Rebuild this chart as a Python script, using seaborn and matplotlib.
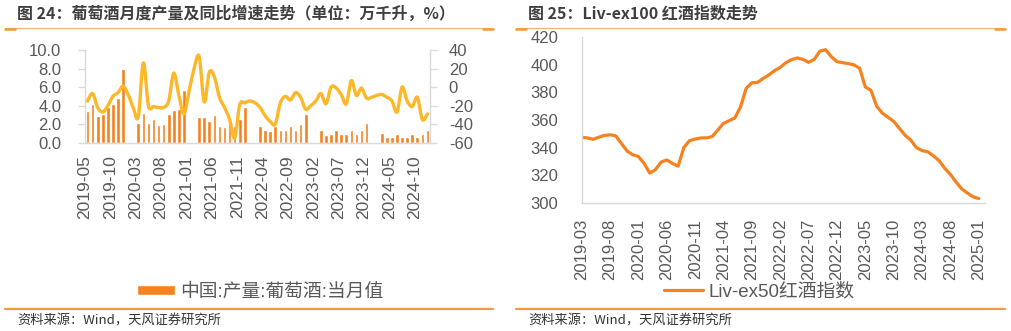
import numpy as np
import pandas as pd
import matplotlib
matplotlib.use("Agg")
import matplotlib.pyplot as plt
import seaborn as sns
from matplotlib.path import Path
from matplotlib.patches import PathPatch
from matplotlib.lines import Line2D

# ------------------------------------------------------------------ data
# Left chart: China wine output (10k kL, bars) and YoY growth (%, line)
prod_months = [str(p) for p in pd.period_range("2019-05", "2024-12", freq="M")]
nan = np.nan
prod_output = [
    3.4, 4.2, 2.9, 3.1, 3.9, 4.2, 4.85, 7.9,
    nan, nan, 2.1, 3.25, 2.1, 2.6, 1.9, 2.05, 3.1, 3.55, 3.6, 5.65,
    nan, nan, 2.8, 2.8, 2.3, 2.95, 1.8, 1.65, 2.1, 1.85, 2.6, 3.9,
    nan, nan, 1.75, 1.4, 1.25, 1.75, 1.4, 1.4, 1.75, 1.4, 2.05, 3.05,
    nan, nan, 1.4, 0.8, 0.9, 1.4, 0.9, 0.9, 1.4, 0.9, 1.4, 2.1,
    nan, nan, 1.1, 0.6, 0.6, 0.9, 0.6, 0.6, 0.9, 0.6, 0.9, 1.4,
]
prod_yoy = [
    -15, -7, -22, -27, -20, -10, -6, 1,
    -8, -22, -32, 26, -20, -21, -22, -22, -15, 15, -9, -29,
    -5, 20, 33, -16, 16, 11, -11, -22, -35, -55, -19, -17,
    -15, -17, -22, -31, -37, -40, -17, -10, -14, -6, -11, -24,
    -20, -15, -7, -18, 0, -1, -8, -18, 7, -9, -1, -12,
    -11, -9, -8, -11, -15, -27, 0, -15, -21, -11, -35, -29,
]
bar_label = "中国:产量:葡萄酒:当月值"

# Right chart: Liv-ex index
liv_months = [str(p) for p in pd.period_range("2019-03", "2025-01", freq="M")]
liv_values = [
    347.5, 347, 346, 347.5, 348.8, 349.3, 348.5, 343, 337.5, 334.8,
    333.5, 328.5, 321.5, 324, 329.5, 331, 328.5, 326.5, 340, 345,
    346.2, 347, 347, 348, 352.7, 357.6, 359.5, 361.5, 369.5, 383,
    387, 387.3, 390.2, 392.7, 395.8, 398.2, 401.6, 403.8, 405, 404,
    401.8, 404, 410, 411, 406, 402.3, 401.6, 400.9, 400, 397.5,
    384, 381.5, 370, 365, 362, 359, 354, 349, 345.5, 340,
    337.8, 337, 334, 330.5, 325, 320.5, 315, 310, 307, 304.3, 303,
]
liv_label = "Liv-ex50红酒指数"

title_left = "图 24：葡萄酒月度产量及同比增速走势（单位：万千升，%）"
title_right = "图 25：Liv-ex100 红酒指数走势"
source_text = "资料来源：Wind，天风证券研究所"

# ------------------------------------------------------------------ style
sns.set_style("white")
plt.rcParams["font.family"] = ["Liberation Sans", "Noto Sans CJK SC", "DejaVu Sans"]
plt.rcParams["axes.unicode_minus"] = False

W, H = 1011, 331
BAR = "#F58220"
GOLD = "#FDB82A"
ORANGE = "#F5821F"
AXC = "#D9D9D9"
TXT = "#595959"
RULE = "#F39A3C"

fig = plt.figure(figsize=(W / 100, H / 100), dpi=100)


def fx(px):
    return px / W


def fy(py):
    return 1 - py / H


# ------------------------------------------------------------------ left chart
ax = fig.add_axes([fx(85), fy(142.7), fx(345), 92.7 / H])
df_prod = pd.DataFrame({"month": prod_months, "output": prod_output})
sns.barplot(data=df_prod, x="month", y="output", order=prod_months, color=BAR,
            saturation=1, width=0.72, errorbar=None, ax=ax, label=bar_label)
if ax.get_legend() is not None:
    ax.get_legend().remove()
ax.set_xlim(-0.5, len(prod_months) - 0.5)
ax.set_ylim(0, 10)
ax.set_yticks(np.arange(0, 10.1, 2))
ax.set_yticklabels([f"{v:.1f}" for v in np.arange(0, 10.1, 2)])
tick_idx = list(range(0, len(prod_months), 5))
ax.set_xticks([i - 0.5 for i in tick_idx])
ax.set_xticklabels([prod_months[i] for i in tick_idx])
ax.set_xlabel("")
ax.set_ylabel("")
for s in ["top", "right"]:
    ax.spines[s].set_visible(False)
for s in ["left", "bottom"]:
    ax.spines[s].set_color(AXC)
    ax.spines[s].set_linewidth(1)
ax.tick_params(axis="y", direction="out", length=5, width=1, color=AXC,
               labelcolor=TXT, labelsize=12, pad=12)
ax.tick_params(axis="x", direction="out", length=5, width=1, color=AXC,
               labelcolor=TXT, labelsize=12.5, pad=4, labelrotation=90)

ax2 = ax.twinx()
ax2.set_ylim(-60, 40)
ax2.set_yticks(np.arange(-60, 41, 20))
ax2.set_yticklabels([f"{v:d}" for v in np.arange(-60, 41, 20)])
for s in ["top", "left", "bottom"]:
    ax2.spines[s].set_visible(False)
ax2.spines["right"].set_color(AXC)
ax2.spines["right"].set_linewidth(1)
ax2.tick_params(axis="y", direction="out", length=5, width=1, color=AXC,
                labelcolor=TXT, labelsize=12, pad=8.5)

# smoothed (Excel-style) line through the YoY points
pts = np.column_stack([np.arange(len(prod_yoy)), np.array(prod_yoy, float)])
verts = [tuple(pts[0])]
codes = [Path.MOVETO]
n = len(pts)
for i in range(n - 1):
    p0 = pts[max(i - 1, 0)]
    p1 = pts[i]
    p2 = pts[i + 1]
    p3 = pts[min(i + 2, n - 1)]
    c1 = p1 + (p2 - p0) / 6.0
    c2 = p2 - (p3 - p1) / 6.0
    verts += [tuple(c1), tuple(c2), tuple(p2)]
    codes += [Path.CURVE4] * 3
ax2.add_patch(PathPatch(Path(verts, codes), fill=False, edgecolor=GOLD,
                        lw=2.4, capstyle="round", joinstyle="round"))

h, l = ax.get_legend_handles_labels()
fig.legend(h, l, loc="center", bbox_to_anchor=(fx(260), fy(292)), frameon=False,
           fontsize=13.5, handlelength=2.03, handleheight=0.45, handletextpad=0.27,
           borderpad=0, borderaxespad=0, labelcolor=TXT)

# ------------------------------------------------------------------ right chart
axr = fig.add_axes([fx(581.7), fy(202.7), fx(403.3), 165.4 / H])
df_liv = pd.DataFrame({"pos": np.arange(len(liv_values)), "index": liv_values})
sns.lineplot(data=df_liv, x="pos", y="index", ax=axr, color=ORANGE, lw=2.3,
             label=liv_label)
if axr.get_legend() is not None:
    axr.get_legend().remove()
axr.set_xlim(0, 71.1)
axr.set_ylim(300, 420)
axr.set_yticks(np.arange(300, 421, 20))
rt = list(range(0, len(liv_months), 5))
axr.set_xticks(rt)
axr.set_xticklabels([liv_months[i] for i in rt])
axr.set_xlabel("")
axr.set_ylabel("")
for s in ["top", "right"]:
    axr.spines[s].set_visible(False)
for s in ["left", "bottom"]:
    axr.spines[s].set_color(AXC)
    axr.spines[s].set_linewidth(1)
axr.tick_params(axis="y", direction="out", length=5, width=1, color=AXC,
                labelcolor=TXT, labelsize=12, pad=12)
axr.tick_params(axis="x", direction="out", length=5, width=1, color=AXC,
                labelcolor=TXT, labelsize=12, pad=6.5, labelrotation=90)

hr, lr = axr.get_legend_handles_labels()
fig.legend(hr, lr, loc="center", bbox_to_anchor=(fx(759), fy(292)), frameon=False,
           fontsize=13.5, handlelength=2.13, handletextpad=0.27,
           borderpad=0, borderaxespad=0, labelcolor=TXT)

# ------------------------------------------------------------------ frame texts and rules
cjk = ["Noto Sans CJK SC", "DejaVu Sans"]
for x0, x1, tx, title in [(5, 493, 17, title_left), (516, 1005, 528, title_right)]:
    fig.text(fx(tx), fy(14), title, fontsize=11.5, fontweight="bold",
             color="#3F3F3F", ha="left", va="center", family=cjk)
    fig.add_artist(Line2D([fx(x0), fx(x1)], [fy(28)] * 2, color="#F6B26B", lw=0.8))
    fig.add_artist(Line2D([fx(x0), fx(x0 + 10)], [fy(28.5)] * 2, color=RULE, lw=1.8))
    fig.add_artist(Line2D([fx(x1 - 10), fx(x1)], [fy(28.5)] * 2, color=RULE, lw=1.8))
    fig.add_artist(Line2D([fx(x0), fx(x1)], [fy(309)] * 2, color=RULE, lw=1.6))
    fig.text(fx(tx), fy(321.5), source_text, fontsize=9.5, color="#333333",
             ha="left", va="center", family=cjk)

fig.savefig("out.png", dpi=100)
